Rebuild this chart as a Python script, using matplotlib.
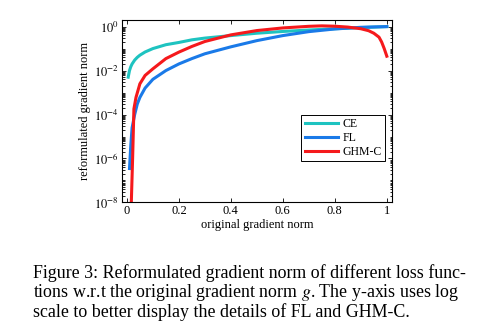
import numpy as np
import matplotlib
matplotlib.use('Agg')
import matplotlib.pyplot as plt
from matplotlib.ticker import LogLocator, FixedLocator, NullFormatter

plt.rcParams['font.family'] = ['Liberation Serif', 'DejaVu Serif']
plt.rcParams['mathtext.fontset'] = 'stix'

# values
ce_x = [0.005, 0.01, 0.015, 0.02, 0.03, 0.04, 0.05, 0.07, 0.1, 0.15, 0.2, 0.25, 0.3, 0.4, 0.5,
        0.6, 0.7, 0.8, 0.9, 1.0]
ce_y = [0.005, 0.01, 0.015, 0.02, 0.03, 0.04, 0.05, 0.07, 0.1, 0.15, 0.19, 0.25, 0.3, 0.39, 0.5,
        0.6, 0.7, 0.8, 0.9, 1.0]

fl_x = [0.01, 0.015, 0.02, 0.03, 0.04, 0.05, 0.07, 0.1, 0.15, 0.2, 0.25, 0.3, 0.4, 0.5, 0.6,
        0.7, 0.8, 0.9, 1.0]
fl_y = [3.5e-7, 4e-6, 2.5e-5, 1e-4, 3e-4, 6e-4, 1.6e-3, 4e-3, 1e-2, 0.02, 0.035, 0.058, 0.12,
        0.23, 0.39, 0.59, 0.78, 0.93, 1.0]

ghm_x = [0.012, 0.017, 0.022, 0.027, 0.035, 0.05, 0.07, 0.1, 0.15, 0.2, 0.25, 0.3, 0.4, 0.5,
         0.6, 0.7, 0.75, 0.8, 0.85, 0.9, 0.93, 0.95, 0.97, 0.98, 0.99, 1.0]
ghm_y = [1e-10, 1e-8, 1e-6, 1.8e-4, 6e-4, 2.5e-3, 6e-3, 0.012, 0.035, 0.069, 0.125, 0.21,
         0.42, 0.66, 0.87, 1.03, 1.08, 1.04, 0.95, 0.8, 0.65, 0.5, 0.33, 0.2, 0.1, 0.045]

labels = ['CE', 'FL', 'GHM-C']
colors = ['#1ec3c0', '#1a7ae8', '#f5191c']

fig = plt.figure(figsize=(4.81, 3.33), dpi=100)
ax = fig.add_axes([0.253, 0.392, 0.562, 0.548])

ax.plot(ce_x, ce_y, color=colors[0], lw=2.2, label=labels[0])
ax.plot(fl_x, fl_y, color=colors[1], lw=2.2, label=labels[1])
ax.plot(ghm_x, ghm_y, color=colors[2], lw=2.2, label=labels[2])

ax.set_yscale('log')
ax.set_xlim(-0.02, 1.02)
ax.set_ylim(1e-8, 2)
ax.set_xticks([0, 0.2, 0.4, 0.6, 0.8, 1])
ax.set_xticklabels(['0', '0.2', '0.4', '0.6', '0.8', '1'])
ax.yaxis.set_major_locator(FixedLocator([1e-8, 1e-6, 1e-4, 1e-2, 1]))
ax.set_yticklabels(['$10^{-8}$', '$10^{-6}$', '$10^{-4}$', '$10^{-2}$', '$10^{0}$'])
ax.yaxis.set_minor_locator(LogLocator(base=10, subs=np.arange(1, 10), numticks=40))
ax.yaxis.set_minor_formatter(NullFormatter())
ax.tick_params(which='both', direction='in', top=True, right=True, labelsize=9,
               width=0.6, pad=2)
ax.tick_params(which='major', length=3)
ax.tick_params(which='minor', length=1.8)
for s in ax.spines.values():
    s.set_linewidth(0.8)

ax.set_xlabel('original gradient norm', fontsize=9, labelpad=1)
ax.set_ylabel('reformulated gradient norm', fontsize=9, labelpad=2)

leg = ax.legend(loc='upper right', bbox_to_anchor=(0.975, 0.48), fontsize=8.5,
                fancybox=False, edgecolor='black', framealpha=1, borderpad=0.3,
                handlelength=2.8, labelspacing=0.15, handletextpad=0.4, borderaxespad=0)
leg.get_frame().set_linewidth(0.7)

caption = ['Figure 3: Reformulated gradient norm of different loss func-',
           'tions w.r.t the original gradient norm $g$. The y-axis uses log',
           'scale to better display the details of FL and GHM-C.']
for i, line in enumerate(caption):
    fig.text(33 / 481, 1 - (273 + 19.3 * i) / 333, line, fontsize=12.9,
             ha='left', va='center')

fig.savefig('out.png', dpi=100)
